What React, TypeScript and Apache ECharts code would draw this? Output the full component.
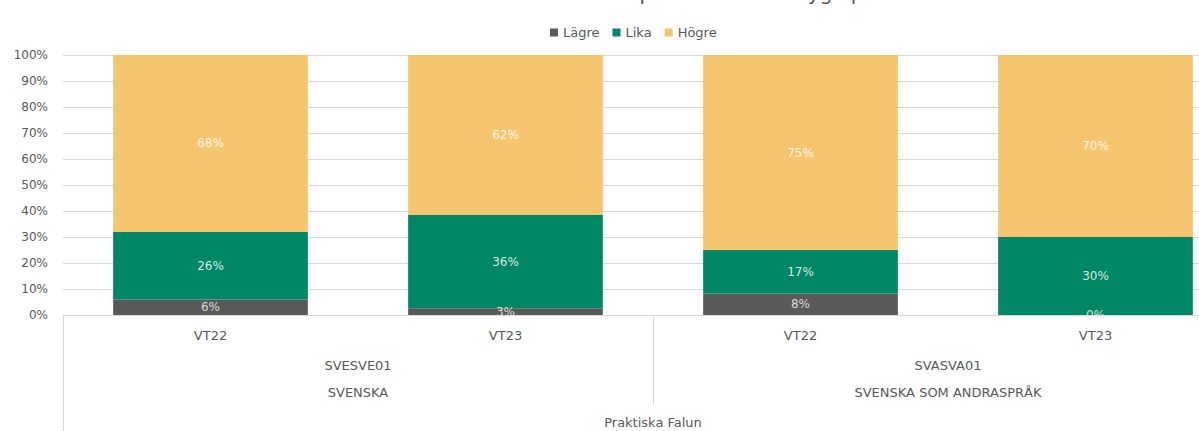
import React, { useEffect, useRef } from "react";
import * as echarts from "echarts";

const titleText = "Överensstämmelse nationella prov och kursbetyg i procent";
const periods = ["VT22", "VT23", "VT22", "VT23"];
const courseCodes = ["SVESVE01", "SVASVA01"];
const courseNames = ["SVENSKA", "SVENSKA SOM ANDRASPRÅK"];
const schools = ["Praktiska Falun"];
const yTicks = [0, 10, 20, 30, 40, 50, 60, 70, 80, 90, 100];

const seriesNames = ["Lägre", "Lika", "Högre"];
const lagre = [6, 2.6, 8.3, 0];
const lika = [26, 35.9, 16.7, 30];
const hogre = [68, 61.5, 75, 70];
const colors = ["#595959", "#008766", "#F6C570"];

const FONT = "'DejaVu Sans', 'Noto Sans', sans-serif";
const TXT = "#595959";
const LINE = "#d9d9d9";

export default function App() {
  const ref = useRef<HTMLDivElement>(null);
  useEffect(() => {
    if (!ref.current) return;
    const chart = echarts.init(ref.current, null, { renderer: "svg" });
    const values = [lagre, lika, hogre];
    chart.setOption({
      animation: false,
      textStyle: { fontFamily: FONT },
      graphic: [
        {
          type: "text",
          x: 631,
          y: -17,
          style: {
            text: titleText,
            fontSize: 20,
            fontFamily: FONT,
            fill: TXT,
            align: "center",
            verticalAlign: "top",
          },
        },
      ],
      legend: {
        data: seriesNames,
        left: 545,
        top: 21,
        icon: "rect",
        itemWidth: 8,
        itemHeight: 8,
        itemGap: 13,
        itemStyle: { borderWidth: 0 },
        textStyle: { color: TXT, fontSize: 13, fontFamily: FONT },
      },
      grid: {
        left: 63,
        width: 1180,
        top: 55,
        height: 260,
        containLabel: false,
        outerBoundsMode: "none",
      },
      yAxis: {
        type: "value",
        min: yTicks[0],
        max: yTicks[yTicks.length - 1],
        interval: 10,
        axisLine: { show: false },
        axisTick: { show: false },
        axisLabel: {
          formatter: (v: number) => v + "%",
          color: TXT,
          fontSize: 12,
          margin: 15,
          fontFamily: FONT,
        },
        splitLine: { lineStyle: { color: LINE, width: 1 } },
      },
      xAxis: [
        {
          type: "category",
          data: periods,
          position: "bottom",
          axisLine: { show: true, lineStyle: { color: LINE } },
          axisTick: { show: false },
          axisLabel: { color: TXT, fontSize: 13, margin: 14, fontFamily: FONT },
        },
        {
          type: "category",
          data: courseCodes,
          position: "bottom",
          axisLine: { show: false },
          axisTick: { show: true, length: 90, lineStyle: { color: LINE } },
          axisLabel: {
            color: TXT,
            fontSize: 13,
            margin: 37,
            lineHeight: 27,
            fontFamily: FONT,
            formatter: (v: string, i: number) => v + "\n" + courseNames[i],
          },
        },
        {
          type: "category",
          data: schools,
          position: "bottom",
          axisLine: { show: false },
          axisTick: { show: true, length: 116, lineStyle: { color: LINE } },
          axisLabel: { color: TXT, fontSize: 13, margin: 101, fontFamily: FONT },
        },
      ],
      series: seriesNames.map((name, k) => ({
        name,
        type: "bar",
        stack: "total",
        xAxisIndex: 0,
        data: values[k],
        barCategoryGap: "34%",
        itemStyle: { color: colors[k] },
        label: {
          show: true,
          position: "inside",
          formatter: (p: any) => Math.round(p.value) + "%",
          color: k === 0 ? "rgba(235,235,235,0.9)" : "rgba(255,255,255,0.85)",
          fontSize: 12,
          fontFamily: FONT,
        },
      })),
    });
    return () => chart.dispose();
  }, []);
  return (
    <div
      ref={ref}
      style={{ position: "absolute", left: 0, top: 0, width: 1199, height: 431 }}
    />
  );
}
